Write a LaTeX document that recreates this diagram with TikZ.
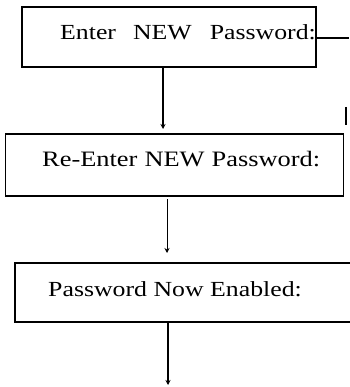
\documentclass[tikz,border=0pt]{standalone}
\usepackage{fontspec}
\setmainfont[FakeStretch=1.2]{Liberation Serif}
\usetikzlibrary{arrows.meta}
\begin{document}
\begin{tikzpicture}[x=1pt,y=-1pt,
  stepbox/.style={draw, line width=1.5pt, rectangle, inner sep=0pt},
  label/.style={anchor=base west, inner sep=0pt, font=\fontsize{21.5}{24}\selectfont},
  flow/.style={line width=1.4pt, -{Stealth[length=5pt,width=5pt]}}]
\useasboundingbox (0,0) rectangle (349,387);
% boxes
\node[stepbox, minimum width=294pt, minimum height=60pt] (b1) at (169,37) {};
\node[stepbox, minimum width=338pt, minimum height=62pt] (b2) at (174.5,165) {};
\node[stepbox, minimum width=340pt, minimum height=59pt] (b3) at (185,292.5) {};
% texts
\node[label] (t1) at (60,40) {Enter\hspace{17pt}NEW\hspace{18pt}Password:};
\node[label, font=\fontsize{22}{24}\selectfont] (t2) at (42,167) {Re-Enter\hspace{7pt}NEW\hspace{7pt}Password:};
\node[label] (t3) at (48,296) {Password Now Enabled:};
% connectors
\coordinate (e1) at (349,38);
\coordinate (a1) at (163,129);
\coordinate (s2) at (167,199);
\coordinate (a2) at (167,253);
\coordinate (a3) at (168,385);
\coordinate (m1) at (346,107);
\coordinate (m2) at (346,125);
\draw[line width=1.5pt] (b1.east |- e1) -- (e1);
\draw[flow] (b1.south -| a1) -- (a1);
\draw[flow, line width=1pt] (s2) -- (a2);
\draw[flow] (b3.south -| a3) -- (a3);
\draw[line width=1.5pt] (m1) -- (m2);
\end{tikzpicture}
\end{document}
